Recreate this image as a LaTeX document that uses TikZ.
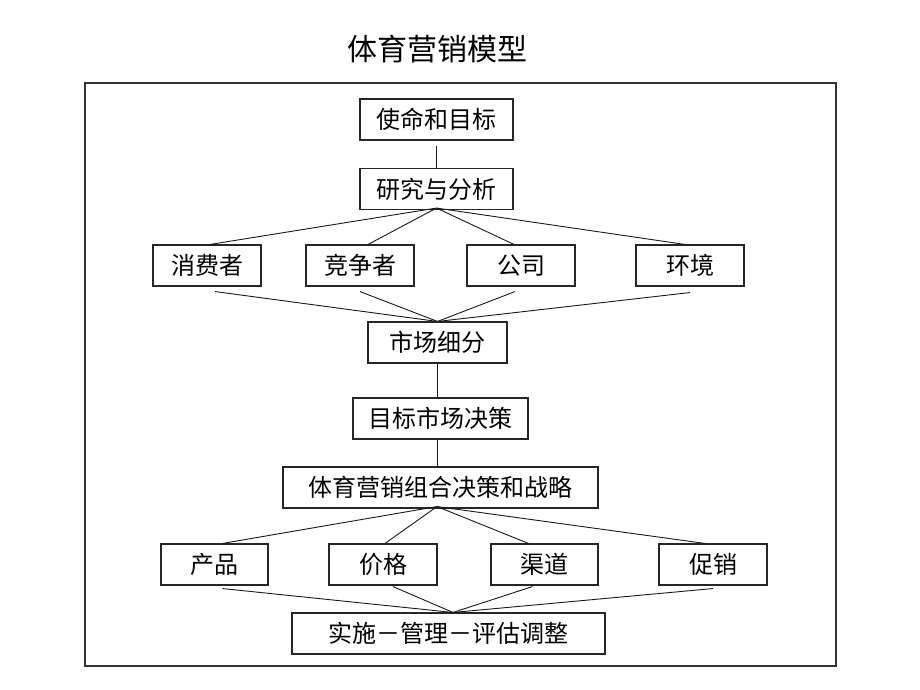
\documentclass[tikz,border=0pt]{standalone}
\usepackage{fontspec}
\newfontfamily\cjk{Noto Sans CJK SC}
\usepackage{tikz}
\usetikzlibrary{positioning}
\tikzset{
	box/.style={draw=black!85, line width=1.1pt, inner sep=0pt, minimum height=41pt, font=\cjk\fontsize{24}{24}\selectfont},
	link/.style={draw=black!90, line width=0.9pt},
	frame/.style={draw=black!80, line width=1.4pt}
}

\begin{document}
\begin{tikzpicture}[x=1pt, y=-1pt]
			\useasboundingbox (0,0) rectangle (920,690);
			\node[font=\cjk\fontsize{30}{30}\selectfont] (Title) at (437,49) {体育营销模型};
			\draw[frame] (85,83) rectangle (836,666);
			\node[box, minimum width=153pt] (Goal) at (436.5,119.5) {使命和目标};
			\node[box, minimum width=153pt] (Research) at (436.5,189) {研究与分析};
			\node[box, minimum width=108pt] (Consumer) at (207,265.5) {消费者};
			\node[box, minimum width=108pt] (Rival) at (360,265.5) {竞争者};
			\node[box, minimum width=108pt] (Firm) at (521,265.5) {公司};
			\node[box, minimum width=108pt] (Env) at (690,265.5) {环境};
			\node[box, minimum width=139pt] (Seg) at (437.5,342.5) {市场细分};
			\node[box, minimum width=175pt] (Target) at (440.5,418.5) {目标市场决策};
			\node[box, minimum width=315pt] (Mix) at (440.5,487.5) {体育营销组合决策和战略};
			\node[box, minimum width=107pt] (Product) at (214.5,564.5) {产品};
			\node[box, minimum width=108pt] (Price) at (383,564.5) {价格};
			\node[box, minimum width=107pt] (Channel) at (544.5,564.5) {渠道};
			\node[box, minimum width=108pt] (Promo) at (713,564.5) {促销};
			\node[box, minimum width=313pt] (Impl) at (448.5,633.5) {实施－管理－评估调整};
			\draw[link] ([yshift=-5pt]Goal.south) -- (Research.north);
			\draw[link] ([yshift=2pt]Research.south) -- ([xshift=3pt]Consumer.north);
			\draw[link] ([yshift=2pt]Research.south) -- ([xshift=8pt]Rival.north);
			\draw[link] ([yshift=2pt]Research.south) -- ([xshift=-7pt]Firm.north);
			\draw[link] ([yshift=2pt]Research.south) -- ([xshift=-5pt]Env.north);
			\draw[link] ([xshift=8pt,yshift=-5pt]Consumer.south) -- (Seg.north);
			\draw[link] ([yshift=-5pt]Rival.south) -- (Seg.north);
			\draw[link] ([xshift=-6pt,yshift=-5pt]Firm.south) -- (Seg.north);
			\draw[link] ([yshift=-6pt]Env.south) -- (Seg.north);
			\draw[link] (Seg.south) -- (Seg.south |- Target.north);
			\draw[link] ([xshift=-3.5pt]Target.south) -- ([xshift=-3.5pt]Mix.north);
			\draw[link] ([xshift=-3.5pt,yshift=2pt]Mix.south) -- ([xshift=8pt]Product.north);
			\draw[link] ([xshift=-3.5pt,yshift=2pt]Mix.south) -- ([xshift=2pt]Price.north);
			\draw[link] ([xshift=-3.5pt,yshift=2pt]Mix.south) -- ([xshift=-16pt]Channel.north);
			\draw[link] ([xshift=-3.5pt,yshift=2pt]Mix.south) -- ([xshift=-8pt]Promo.north);
			\draw[link] ([xshift=8pt,yshift=-3pt]Product.south) -- ([xshift=4.5pt]Impl.north);
			\draw[link] ([xshift=10pt,yshift=-1pt]Price.south) -- ([xshift=4.5pt]Impl.north);
			\draw[link] ([xshift=-12pt,yshift=-1pt]Channel.south) -- ([xshift=4.5pt]Impl.north);
			\draw[link] ([yshift=-3pt]Promo.south) -- ([xshift=4.5pt]Impl.north);
		\end{tikzpicture}
\end{document}
